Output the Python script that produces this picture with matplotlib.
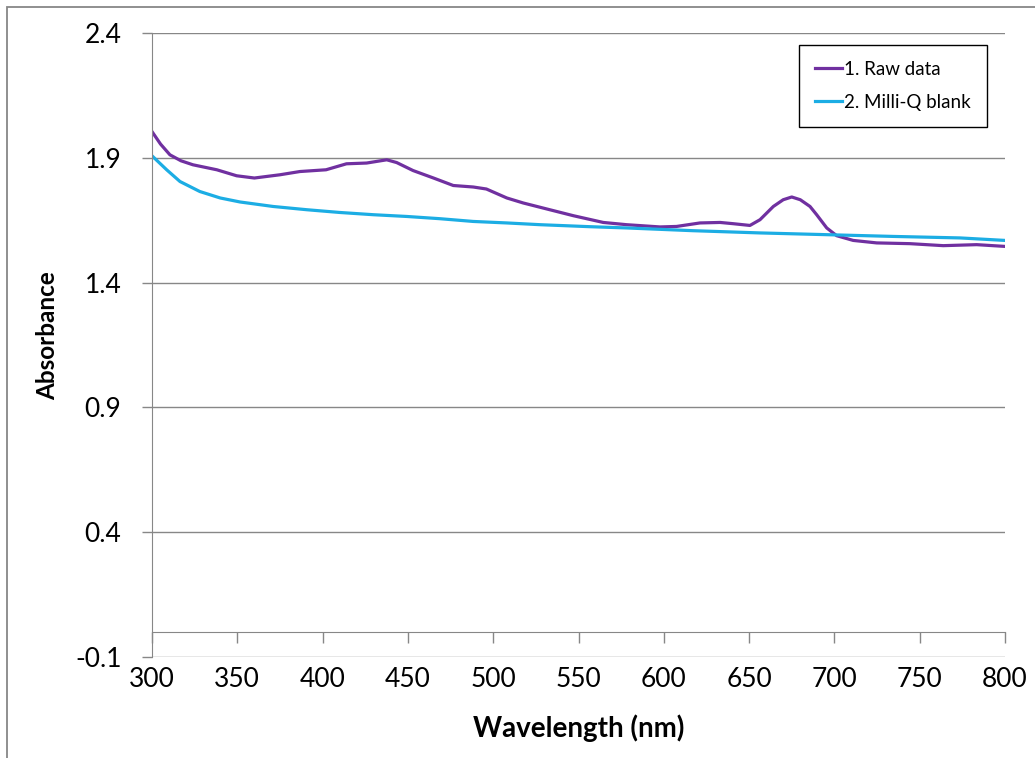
import matplotlib
matplotlib.use("Agg")
import matplotlib.pyplot as plt
from matplotlib.patches import Rectangle
from matplotlib.ticker import FormatStrFormatter

plt.rcParams['font.family'] = ['Lato', 'DejaVu Sans']
plt.rcParams['axes.unicode_minus'] = False

# values
raw_wl = [300, 305, 310.5, 317, 324, 338, 349.6, 360, 375, 386.7, 402, 414, 425.8,
          437.6, 443.4, 453, 465, 476.6, 488.3, 496, 508, 517.6, 531.4, 547,
          564.5, 578.2, 597.8, 607.5, 621.2, 633, 640.7, 650.5, 656.4, 664.2,
          670, 675, 680, 685.7, 689.6, 695.5, 701.3, 711, 724.8, 744.3, 763.8,
          783.4, 800]
raw_abs = [2.005, 1.955, 1.912, 1.888, 1.872, 1.852, 1.828, 1.819, 1.832, 1.845,
           1.852, 1.876, 1.879, 1.892, 1.881, 1.849, 1.819, 1.789, 1.783, 1.775,
           1.739, 1.719, 1.695, 1.668, 1.641, 1.632, 1.623, 1.625, 1.639, 1.641,
           1.636, 1.629, 1.652, 1.705, 1.732, 1.743, 1.732, 1.705, 1.672, 1.619,
           1.588, 1.569, 1.559, 1.556, 1.548, 1.552, 1.545]

blank_wl = [300, 308.6, 316.4, 328, 340, 351.6, 371, 390.7, 410, 429.7, 449.3,
            468.8, 488.3, 508, 527.5, 556.7, 578, 617, 656.4, 695.5, 734.5,
            773.6, 800]
blank_abs = [1.908, 1.852, 1.805, 1.765, 1.739, 1.723, 1.705, 1.692, 1.681,
             1.672, 1.665, 1.656, 1.645, 1.639, 1.632, 1.624, 1.619, 1.608,
             1.599, 1.592, 1.585, 1.579, 1.569]

x_ticks = [300, 350, 400, 450, 500, 550, 600, 650, 700, 750, 800]
y_ticks = [-0.1, 0.4, 0.9, 1.4, 1.9, 2.4]

W, H = 1035, 758
fig = plt.figure(figsize=(W / 100, H / 100), dpi=100)
ax = fig.add_axes([152 / W, 1 - 657 / H, (1005 - 152) / W, (657 - 33) / H])

grey = '#878787'
ax.plot(raw_wl, raw_abs, color='#7030A0', lw=2.3, label='1. Raw data')
ax.plot(blank_wl, blank_abs, color='#1CADE4', lw=2.3, label='2. Milli-Q blank')

ax.set_xlim(300, 800)
ax.set_ylim(-0.1, 2.4)
ax.set_xticks(x_ticks)
ax.set_yticks(y_ticks)
ax.yaxis.set_major_formatter(FormatStrFormatter('%.1f'))
ax.grid(axis='y', color=grey, lw=1)
ax.set_axisbelow(True)

for s in ['top', 'right']:
    ax.spines[s].set_visible(False)
ax.spines['bottom'].set_position(('data', 0))
ax.spines['bottom'].set_color(grey)
ax.spines['left'].set_color(grey)
ax.tick_params(axis='x', direction='out', length=8, color=grey, pad=17,
               labelsize=19, width=1)
ax.tick_params(axis='y', direction='out', length=7, color=grey, pad=15,
               labelsize=19, width=1)

ax.set_xlabel('Wavelength (nm)', fontsize=20, fontweight='bold', labelpad=16)
ax.set_ylabel('Absorbance', fontsize=17.5, fontweight='bold')
ax.yaxis.set_label_coords((59 - 152) / 853, (657 - 336) / 624)

leg = ax.legend(loc='upper right', bbox_to_anchor=(987 / W, 1 - 45 / H),
                bbox_transform=fig.transFigure, borderaxespad=0,
                fancybox=False, edgecolor='black', framealpha=1,
                fontsize=13.5, handlelength=1.45, handletextpad=0.1,
                labelspacing=0.85, borderpad=0.85)
leg.get_frame().set_linewidth(1)

fig.patches.append(Rectangle((7 / W, -0.1), 1.2, 1 - 7 / H + 0.1,
                             transform=fig.transFigure, fill=False,
                             edgecolor=grey, lw=1.3))

fig.savefig('out.png', dpi=100)
